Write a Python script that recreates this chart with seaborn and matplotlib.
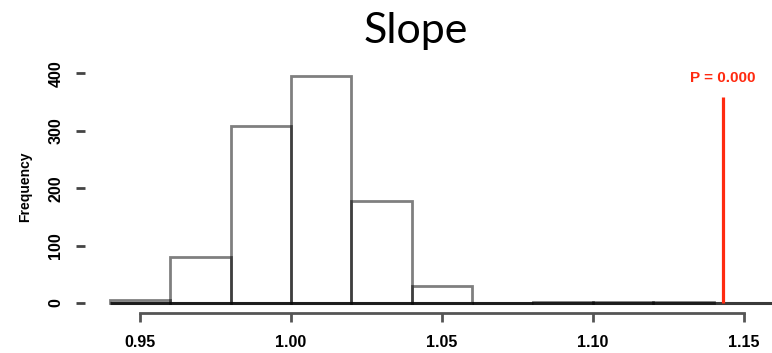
import matplotlib
matplotlib.use("Agg")
import matplotlib.pyplot as plt
import numpy as np
import pandas as pd
import seaborn as sns

# ---- data ----
bin_edges = [0.94, 0.96, 0.98, 1.00, 1.02, 1.04, 1.06, 1.08, 1.10, 1.12, 1.14]
bin_counts = [5, 80, 309, 396, 178, 30, 0, 2, 2, 2]
x_ticks = [0.95, 1.00, 1.05, 1.10, 1.15]
x_tick_labels = ["0.95", "1.00", "1.05", "1.10", "1.15"]
y_ticks = [0, 100, 200, 300, 400]
y_tick_labels = ["0", "100", "200", "300", "400"]
observed_slope = 1.143
observed_line_top = 358
p_label = "P = 0.000"
p_label_y = 392
title = "Slope"
y_label = "Frequency"

centers = [(a + b) / 2 for a, b in zip(bin_edges[:-1], bin_edges[1:])]
df = pd.DataFrame({"slope": centers, "count": bin_counts})

sns.set_style("white")
plt.rcParams["font.family"] = ["Liberation Sans", "DejaVu Sans"]
plt.rcParams["text.color"] = "black"
plt.rcParams["xtick.color"] = "black"
plt.rcParams["ytick.color"] = "black"
plt.rcParams["axes.labelcolor"] = "black"

W, H = 772, 353
fig = plt.figure(figsize=(W / 100, H / 100), dpi=100)
ax = fig.add_axes([85 / W, 40 / H, 687 / W, 253 / H])

# baseline at zero
xlim = (0.93179, 1.15927)
ax.hlines(0, bin_edges[0], xlim[1], color="#3a3a3a", lw=2.2, zorder=1)

sns.histplot(data=df, x="slope", weights="count", bins=bin_edges,
             element="bars", fill=False, color="black",
             linewidth=2, ax=ax, zorder=2)
for p in ax.patches:
    p.set_edgecolor((0, 0, 0, 0.5))

# observed value
red = "#ff2a10"
ax.vlines(observed_slope, 0, observed_line_top, color=red, lw=2.3, zorder=3)
ax.text(observed_slope, p_label_y, p_label, color=red, fontsize=11,
        fontweight="bold", ha="center", va="center")

ax.set_xlim(*xlim)
ax.set_ylim(-17.4, 423.3)

for s in ["top", "right", "left"]:
    ax.spines[s].set_visible(False)
ax.spines["bottom"].set_bounds(x_ticks[0], x_ticks[-1])
ax.spines["bottom"].set_color("#555555")
ax.spines["bottom"].set_linewidth(2)

ax.set_xticks(x_ticks)
ax.set_xticklabels(x_tick_labels, fontweight="bold", fontsize=11.5)
ax.set_yticks(y_ticks)
ax.set_yticklabels(y_tick_labels, fontweight="bold", fontsize=11.5,
                   rotation=90, va="center")
ax.tick_params(axis="x", direction="out", length=6.5, width=2,
               color="#555555", labelcolor="black", pad=9, bottom=True)
ax.tick_params(axis="y", direction="out", length=6.5, width=2,
               color="#444444", labelcolor="black", pad=9, left=True)

ax.set_xlabel("")
ax.set_ylabel(y_label, fontsize=10, fontweight="bold", color="black")
ax.yaxis.set_label_coords(-0.0771, 0.5)

fig.text(416 / W, 310 / H, title, fontsize=31, family=["Lato", "DejaVu Sans"],
         color="black", ha="center", va="baseline")

fig.savefig("out.png", dpi=100)
